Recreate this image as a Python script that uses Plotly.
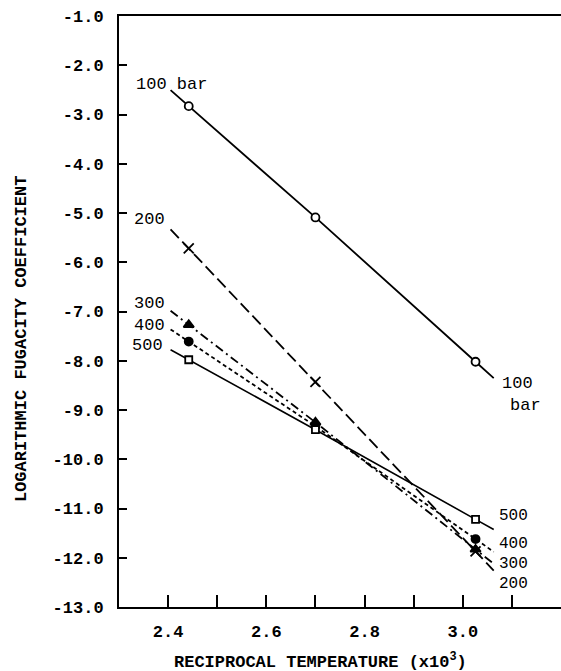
import numpy as np
import plotly.graph_objects as go

# ---- data ----
recip_temp = [2.442, 2.700, 3.026]          # reciprocal temperature (x10^3)
pressures = ["100", "200", "300", "400", "500"]   # bar
lnphi_100 = [-2.83, -5.09, -8.02]
lnphi_200 = [-5.72, -8.43, -11.87]
lnphi_300 = [-7.27, -9.25, -11.83]
lnphi_400 = [-7.61, -9.33, -11.62]
lnphi_500 = [-7.98, -9.40, -11.22]
y_ticks = [-1.0, -2.0, -3.0, -4.0, -5.0, -6.0, -7.0, -8.0, -9.0, -10.0, -11.0, -12.0, -13.0]
x_ticks = [2.4, 2.6, 2.8, 3.0]
x_tick_labels = ["2.4", "2.6", "2.8", "3.0"]
x_minor_ticks = [2.5, 2.7, 2.9, 3.1]

series = [lnphi_100, lnphi_200, lnphi_300, lnphi_400, lnphi_500]

# ---- styles ----
FONT = "Liberation Mono, Courier New, monospace"
EXT = 0.037  # how far each drawn line runs past its end points (x units)
styles = {
    "100": dict(dash="solid", symbol="circle", size=8, fill="white", lw=1.8),
    "200": dict(dash="12px,5px", symbol="x-thin-open", size=10, fill="black", lw=1.8),
    "300": dict(dash="9px,4px,2px,4px", symbol="triangle-up", size=9, fill="black", lw=1.8),
    "400": dict(dash="4px,3px", symbol="circle", size=8, fill="black", lw=1.8),
    "500": dict(dash="solid", symbol="square", size=7, fill="white", lw=1.6),
}
left_label_shift = {"200": (-4, 10), "300": (-4, 7), "400": (-4, 4), "500": (-6, 4)}
right_label_shift = {"500": (3, 14), "400": (3, 8), "300": (3, 0), "200": (3, -13)}

fig = go.Figure()
ends = {}
x = np.array(recip_temp)
for p, yv in zip(pressures, series):
    y = np.array(yv)
    s0 = (y[1] - y[0]) / (x[1] - x[0])
    s1 = (y[-1] - y[-2]) / (x[-1] - x[-2])
    xs = np.concatenate([[x[0] - EXT], x, [x[-1] + EXT]])
    ys = np.concatenate([[y[0] - EXT * s0], y, [y[-1] + EXT * s1]])
    ends[p] = (xs[0], ys[0], xs[-1], ys[-1])
    st = styles[p]
    fig.add_trace(go.Scatter(
        x=xs, y=ys, mode="lines", showlegend=False, hoverinfo="skip",
        line=dict(color="black", width=st["lw"], dash=st["dash"]),
    ))
    fig.add_trace(go.Scatter(
        x=x, y=y, mode="markers", showlegend=False, name=p + " bar",
        marker=dict(symbol=st["symbol"], size=st["size"], color=st["fill"],
                    line=dict(color="black", width=1.8)),
    ))

ann = []
lab_font = dict(family=FONT, size=17, color="black")
rlab_font = dict(family=FONT, size=16, color="black")
# left labels
x0, y0, _, _ = ends["100"]
ann.append(dict(x=x0, y=y0, text="100 bar", xanchor="center", yanchor="middle",
                xshift=1, yshift=6, showarrow=False, font=lab_font))
for p in ["200", "300", "400", "500"]:
    x0, y0, _, _ = ends[p]
    dx, dy = left_label_shift[p]
    ann.append(dict(x=x0, y=y0, text=p, xanchor="right", yanchor="middle",
                    xshift=dx, yshift=dy, showarrow=False, font=lab_font))
# right labels
_, _, x1, y1 = ends["100"]
ann.append(dict(x=x1, y=y1, text="100", xanchor="left", yanchor="middle",
                xshift=6, yshift=-5, showarrow=False, font=lab_font))
ann.append(dict(x=x1, y=y1, text="bar", xanchor="left", yanchor="middle",
                xshift=14, yshift=-27, showarrow=False, font=lab_font))
for p in ["500", "400", "300", "200"]:
    _, _, x1, y1 = ends[p]
    dx, dy = right_label_shift[p]
    ann.append(dict(x=x1, y=y1, text=p, xanchor="left", yanchor="middle",
                    xshift=dx, yshift=dy, showarrow=False, font=rlab_font))

title_font = dict(family=FONT, size=17, color="black", weight="bold")
ann.append(dict(xref="paper", yref="paper", x=0.455, y=0, yshift=-54,
                text="RECIPROCAL TEMPERATURE (x10<sup>3</sup>)", showarrow=False,
                xanchor="center", yanchor="middle", font=title_font))
ann.append(dict(xref="paper", yref="paper", x=-0.22, y=0.453,
                text="LOGARITHMIC FUGACITY COEFFICIENT", showarrow=False, textangle=-90,
                xanchor="center", yanchor="middle", font=title_font))

tick_font = dict(family=FONT, size=17, color="black", weight="bold")
fig.update_layout(
    width=561, height=671,
    margin=dict(l=119, r=0, t=16, b=64),
    paper_bgcolor="white", plot_bgcolor="white",
    annotations=ann,
    xaxis=dict(range=[2.3, 3.2], showgrid=False, zeroline=False,
               showline=True, linecolor="black", linewidth=2, mirror=True,
               ticks="inside", ticklen=12, tickwidth=2, tickcolor="black",
               tickvals=x_ticks, ticktext=x_tick_labels, tickfont=tick_font,
               ticklabelstandoff=8,
               minor=dict(tickmode="array", tickvals=x_minor_ticks, ticks="inside",
                          ticklen=12, tickwidth=2, tickcolor="black", showgrid=False)),
    yaxis=dict(range=[-13, -1], showgrid=False, zeroline=False,
               showline=True, linecolor="black", linewidth=2,
               ticks="inside", ticklen=8, tickwidth=2, tickcolor="black",
               tickvals=y_ticks, ticktext=["%.1f" % v for v in y_ticks],
               tickfont=tick_font, ticklabelstandoff=10),
)
fig.write_html("out.html")
